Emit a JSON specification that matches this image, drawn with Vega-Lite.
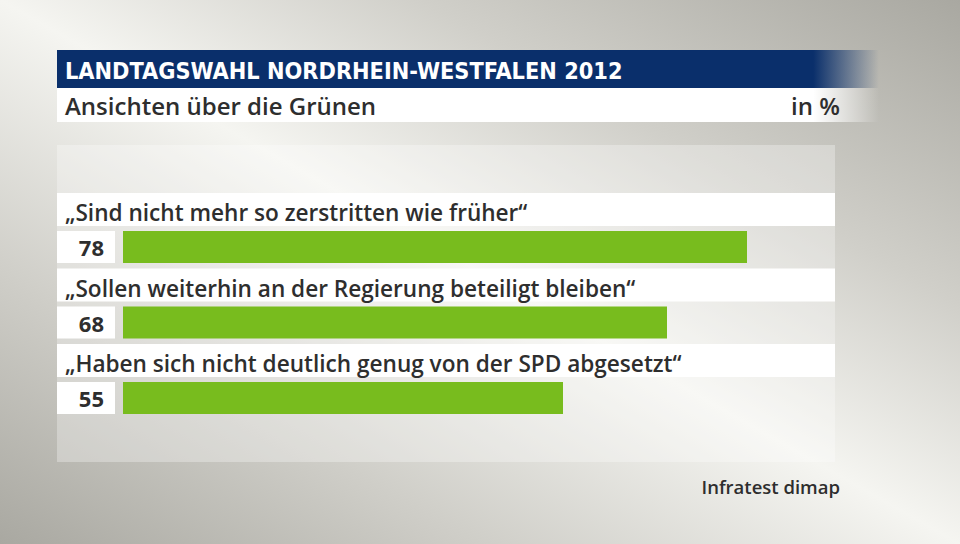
{
  "$schema": "https://vega.github.io/schema/vega-lite/v6.json",
  "width": 778,
  "height": 317,
  "autosize": "none",
  "padding": {"left": 57, "top": 145, "right": 125, "bottom": 82},
  "background": "#c9c9c2",
  "config": {"view": {"stroke": null}},
  "data": {"values": [
    {"q": "„Sind nicht mehr so zerstritten wie früher“", "value": 78},
    {"q": "„Sollen weiterhin an der Regierung beteiligt bleiben“", "value": 68},
    {"q": "„Haben sich nicht deutlich genug von der SPD abgesetzt“", "value": 55}
  ]},
  "layer": [
    {
      "data": {"values": [{}]},
      "mark": {"type": "rect", "x": -57, "x2": 903, "y": -145, "y2": 399,
        "fill": {"gradient": "linear", "x1": 0, "y1": 1, "x2": 1, "y2": 0,
          "stops": [{"offset": 0, "color": "#a9a8a1"}, {"offset": 0.25, "color": "#cfcec8"}, {"offset": 0.5, "color": "#f5f5f1"}, {"offset": 0.72, "color": "#d0cfc9"}, {"offset": 1, "color": "#a9a8a1"}]}},
      "encoding": {}
    },
    {
      "data": {"values": [{}]},
      "mark": {"type": "rect", "x": 0, "x2": 778, "y": 0, "y2": 317, "fill": "#ffffff", "fillOpacity": 0.3},
      "encoding": {}
    },
    {
      "data": {"values": [{}]},
      "mark": {"type": "rect", "x": 0, "x2": 822, "y": -95, "y2": -57,
        "fill": {"gradient": "linear", "x1": 0, "y1": 0, "x2": 1, "y2": 0,
          "stops": [{"offset": 0, "color": "#0a2f6b"}, {"offset": 0.92, "color": "#0a2f6b"}, {"offset": 1, "color": "rgba(10,47,107,0)"}]}},
      "encoding": {}
    },
    {
      "data": {"values": [{}]},
      "mark": {"type": "rect", "x": 0, "x2": 822, "y": -57, "y2": -23,
        "fill": {"gradient": "linear", "x1": 0, "y1": 0, "x2": 1, "y2": 0,
          "stops": [{"offset": 0, "color": "#ffffff"}, {"offset": 0.92, "color": "#ffffff"}, {"offset": 1, "color": "rgba(255,255,255,0)"}]}},
      "encoding": {}
    },
    {
      "data": {"values": [{"t": "LANDTAGSWAHL NORDRHEIN-WESTFALEN 2012"}]},
      "mark": {"type": "text", "x": 8, "y": -66, "align": "left", "baseline": "alphabetic", "font": "DejaVu Sans Condensed, Liberation Sans Narrow, Roboto", "fontWeight": "bold", "fontSize": 23.3, "color": "#ffffff"},
      "encoding": {"text": {"field": "t"}}
    },
    {
      "data": {"values": [{"t": "Ansichten über die Grünen"}]},
      "mark": {"type": "text", "x": 8, "y": -30, "align": "left", "baseline": "alphabetic", "font": "Open Sans", "fontWeight": 600, "fontSize": 24, "color": "#2e2e2e"},
      "encoding": {"text": {"field": "t"}}
    },
    {
      "data": {"values": [{"t": "in %"}]},
      "mark": {"type": "text", "x": 783, "y": -30, "align": "right", "baseline": "alphabetic", "font": "Open Sans", "fontWeight": 600, "fontSize": 24, "color": "#2e2e2e"},
      "encoding": {"text": {"field": "t"}}
    },
    {
      "data": {"values": [{"t": "Infratest dimap"}]},
      "mark": {"type": "text", "x": 783, "y": 349, "align": "right", "baseline": "alphabetic", "font": "Open Sans", "fontWeight": 600, "fontSize": 18.5, "color": "#2e2e2e"},
      "encoding": {"text": {"field": "t"}}
    },
    {
      "mark": {"type": "bar", "color": "#ffffff", "height": 33, "yOffset": -21.25},
      "encoding": {
        "y": {"field": "q", "type": "nominal", "sort": null, "axis": null,
          "scale": {"paddingInner": 0, "paddingOuter": 0.6, "align": 0.53}},
        "x": {"value": 0}, "x2": {"value": 778}}
    },
    {
      "mark": {"type": "bar", "color": "#ffffff", "height": 32, "yOffset": 16.25},
      "encoding": {
        "y": {"field": "q", "type": "nominal", "sort": null},
        "x": {"value": 0}, "x2": {"value": 58}}
    },
    {
      "mark": {"type": "bar", "color": "#78bc1e", "height": 32, "yOffset": 16.25},
      "encoding": {
        "y": {"field": "q", "type": "nominal", "sort": null},
        "x": {"field": "value", "type": "quantitative", "axis": null, "scale": {"domain": [-8.25, 89], "nice": false, "zero": false}},
        "x2": {"datum": 0}
      }
    },
    {
      "mark": {"type": "text", "align": "left", "baseline": "alphabetic", "x": 8, "yOffset": -9.5, "font": "Open Sans", "fontWeight": 600, "fontSize": 22.6, "color": "#2e2e2e"},
      "encoding": {
        "y": {"field": "q", "type": "nominal", "sort": null},
        "text": {"field": "q"}}
    },
    {
      "mark": {"type": "text", "align": "right", "baseline": "alphabetic", "dx": -19, "yOffset": 25.5, "font": "Open Sans", "fontWeight": "bold", "fontSize": 22, "color": "#2e2e2e"},
      "encoding": {
        "y": {"field": "q", "type": "nominal", "sort": null},
        "text": {"field": "value", "type": "quantitative"}, "x": {"datum": 0}}
    }
  ]
}
